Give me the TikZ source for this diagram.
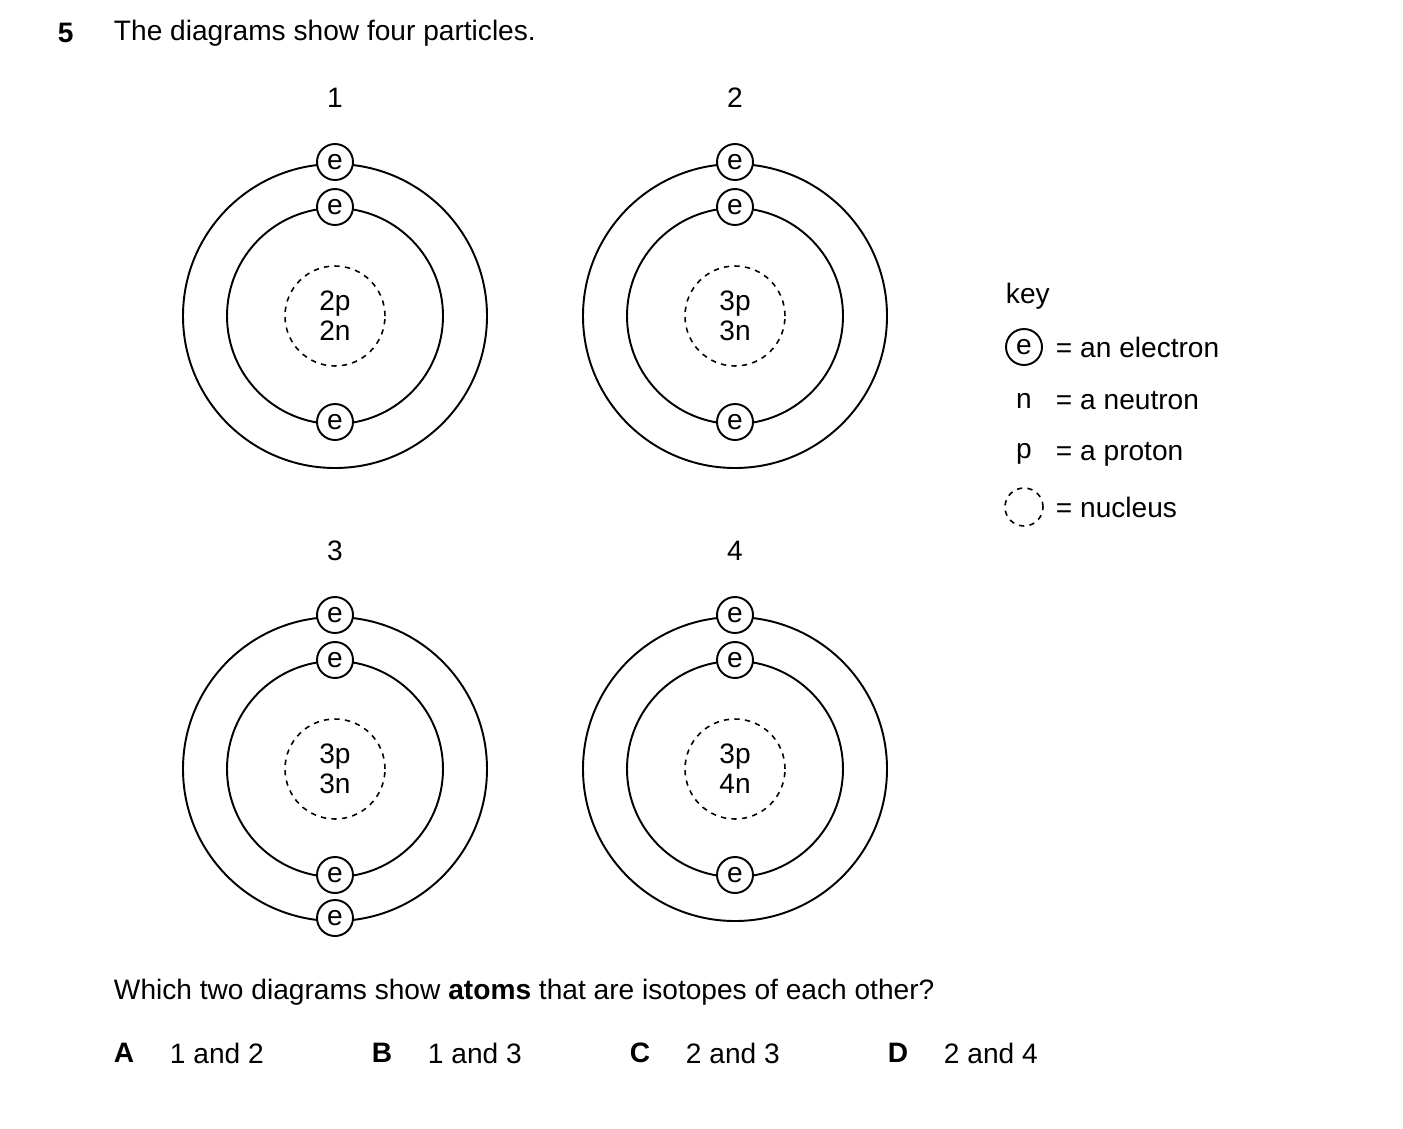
\documentclass[tikz,border=0pt]{standalone}
\usepackage{fontspec}
\setmainfont{Liberation Sans}
\usetikzlibrary{positioning}

\begin{document}
\begin{tikzpicture}[x=0.02cm,y=-0.02cm,line width=1.1pt,
  font=\fontsize{16}{19}\selectfont,
  electron/.style={circle,draw,fill=white,inner sep=0pt,minimum size=0.72cm},
  nucleus/.style={circle,draw,dashed,line width=0.9pt,minimum size=2cm,align=center,inner sep=0pt},
  txt/.style={anchor=west,inner sep=0pt}]
  \useasboundingbox (0,0) rectangle (1403,1129);

  \node[txt,font=\fontsize{16}{19}\selectfont\bfseries] (num) at (57,33) {5};
  \node[txt] (title) at (113,33) {The diagrams show four particles.};

  % atoms: number/x/y/protons/neutrons
  \foreach \n/\x/\y/\p/\m in {1/335/316/2p/2n,2/735/316/3p/3n,3/335/769/3p/3n,4/735/769/3p/4n}{
    \node (lab\n) at (\x,\y-218) {\n};
    \draw (\x,\y) circle[radius=152];
    \draw (\x,\y) circle[radius=108];
    \node[nucleus] (nuc\n) at (\x,\y) {\p\\[-2pt]\m};
    \node[electron] (eo\n) at (\x,\y-154) {e};
    \node[electron] (ei\n) at (\x,\y-109) {e};
    \node[electron] (eb\n) at (\x,\y+106) {e};
  }
  \node[electron] (eb3o) at (335,918) {e};

  % key
  \node[txt] (key) at (1005,296) {key};
  \node[electron] (ke) at (1024,347) {e};
  \node[txt] (kte) at (1055,347) {= an electron};
  \node (kn) at (1024,401) {n};
  \node[txt] (ktn) at (1055,401) {= a neutron};
  \node (kp) at (1024,454) {p};
  \node[txt] (ktp) at (1055,454) {= a proton};
  \node[circle,draw,dashed,line width=0.9pt,minimum size=0.76cm,inner sep=0pt] (kc) at (1024,507) {};
  \node[txt] (ktc) at (1055,507) {= nucleus};

  % question
  \node[txt] (q) at (113,992) {Which two diagrams show \textbf{atoms} that are isotopes of each other?};
  \foreach \l/\a/\b/\x in {A/1/2/113,B/1/3/371,C/2/3/629,D/2/4/887}{
    \node[txt,font=\fontsize{16}{19}\selectfont\bfseries] (opt\l) at (\x,1053) {\l};
    \node[txt] (ans\l) at (\x+56,1053) {\a{} and \b};
  }
\end{tikzpicture}
\end{document}
